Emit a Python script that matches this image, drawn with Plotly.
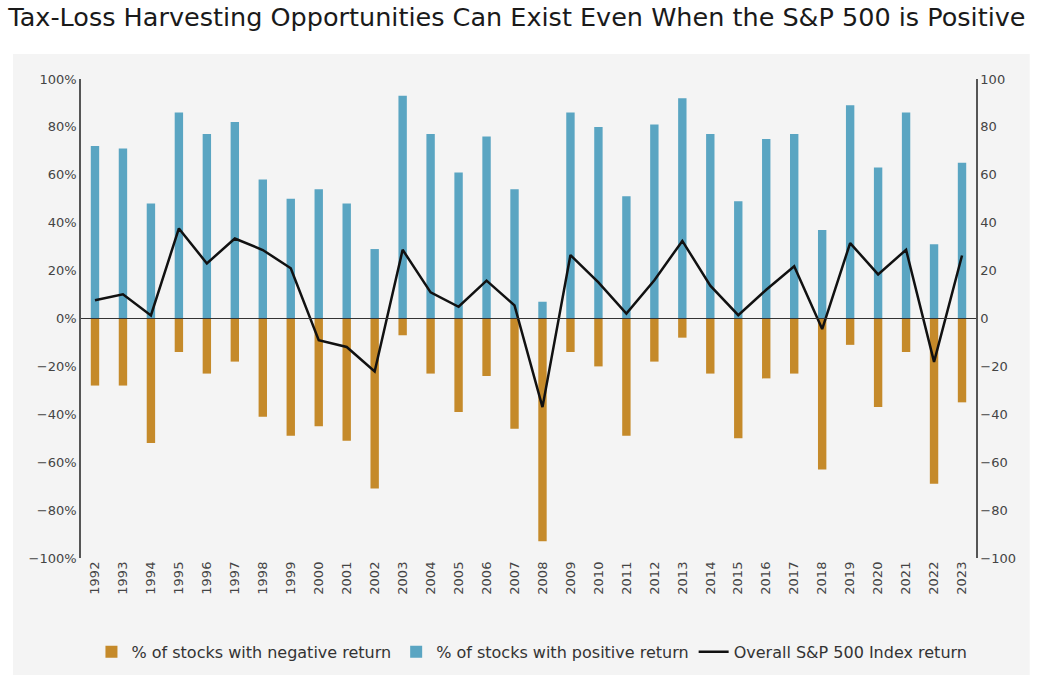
import plotly.graph_objects as go

# Values
years = [str(y) for y in range(1992, 2024)]

pct_positive = [72, 71, 48, 86, 77, 82, 58, 50, 54, 48, 29, 93, 77, 61, 76, 54,
                7, 86, 80, 51, 81, 92, 77, 49, 75, 77, 37, 89, 63, 86, 31, 65]

pct_negative = [-28, -28, -52, -14, -23, -18, -41, -49, -45, -51, -71, -7, -23, -39, -24, -46,
                -93, -14, -20, -49, -18, -8, -23, -50, -25, -23, -63, -11, -37, -14, -69, -35]

sp500_return = [7.6, 10.1, 1.3, 37.6, 23.0, 33.4, 28.6, 21.0, -9.1, -11.9, -22.1, 28.7, 10.9, 4.9, 15.8, 5.5,
                -37.0, 26.5, 15.1, 2.1, 16.0, 32.4, 13.7, 1.4, 12.0, 21.8, -4.4, 31.5, 18.4, 28.7, -18.1, 26.3]

tick_vals = [-100, -80, -60, -40, -20, 0, 20, 40, 60, 80, 100]
left_labels = [f"{v}%".replace("-", "\u2212") for v in tick_vals]
right_labels = [f"{v}".replace("-", "\u2212") for v in tick_vals]

orange = "#c58a2a"
blue = "#5aa5c2"
font_family = "'DejaVu Sans', sans-serif"

fig = go.Figure()

fig.add_trace(go.Bar(
    x=years, y=pct_negative,
    name="% of stocks with negative return",
    marker=dict(color=orange, line=dict(width=0)),
    width=0.3,
))

fig.add_trace(go.Bar(
    x=years, y=pct_positive,
    name="% of stocks with positive return",
    marker=dict(color=blue, line=dict(width=0)),
    width=0.3,
))

fig.add_trace(go.Scatter(
    x=years, y=sp500_return,
    name="Overall S&P 500 Index return",
    mode="lines",
    line=dict(color="#111111", width=2.5),
    yaxis="y2",
))

fig.update_layout(
    width=1040, height=685,
    barmode="relative",
    margin=dict(l=81, r=64, t=79, b=127, autoexpand=False),
    paper_bgcolor="white",
    plot_bgcolor="rgba(0,0,0,0)",
    font=dict(family=font_family, color="#444444", size=13),
    title=dict(
        text="Tax-Loss Harvesting Opportunities Can Exist Even When the S&P 500 is Positive",
        font=dict(family=font_family, size=25.5, color="#1a1a1a"),
        x=0.008, xanchor="left",
        y=0.975, yanchor="middle",
    ),
    xaxis=dict(
        type="category",
        tickangle=-90,
        tickfont=dict(size=13, color="#444444"),
        showgrid=False,
        showline=False,
        ticks="",
        range=[-0.5, 31.5],
    ),
    yaxis=dict(
        range=[-100, 100],
        tickvals=tick_vals,
        ticktext=left_labels,
        showgrid=False,
        zeroline=False,
        showline=True,
        linecolor="#555555",
        linewidth=1.5,
        ticks="",
        tickfont=dict(size=13, color="#444444"),
    ),
    yaxis2=dict(
        range=[-100, 100],
        tickvals=tick_vals,
        ticktext=right_labels,
        overlaying="y",
        side="right",
        showgrid=False,
        zeroline=False,
        showline=True,
        linecolor="#555555",
        linewidth=1.5,
        ticks="",
        tickfont=dict(size=13, color="#444444"),
    ),
    legend=dict(
        orientation="h",
        xref="container",
        x=0.5115, xanchor="center",
        y=-0.196, yanchor="middle",
        font=dict(size=16, color="#333333"),
        bgcolor="rgba(0,0,0,0)",
        traceorder="normal",
    ),
    showlegend=True,
)

# gray panel behind the chart and the zero reference line
fig.add_shape(type="rect", xref="paper", yref="paper",
              x0=-0.076, x1=1.060, y0=-0.244, y1=1.052,
              fillcolor="#f4f4f4", line=dict(width=0), layer="below")
fig.add_shape(type="line", xref="paper", yref="y",
              x0=0, x1=1, y0=0, y1=0,
              line=dict(color="#333333", width=1.2), layer="above")

fig.write_html("out.html", config={"displayModeBar": False},
               post_script="document.body.style.margin='0';")
